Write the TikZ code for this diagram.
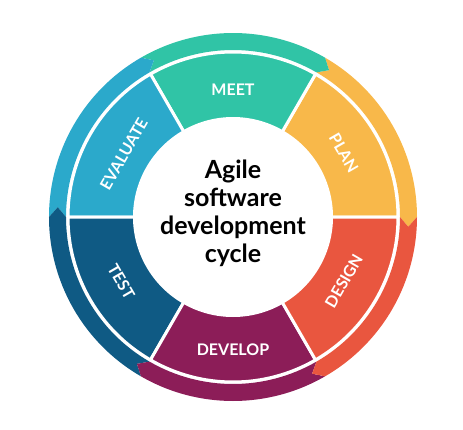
\documentclass[tikz,border=0pt]{standalone}
\usepackage{fontspec}
\setmainfont{Lato}
\usetikzlibrary{calc}
\definecolor{plancol}{HTML}{F8B84A}
\definecolor{meetcol}{HTML}{30C4A6}
\definecolor{evalcol}{HTML}{2BA9CB}
\definecolor{testcol}{HTML}{0F5A84}
\definecolor{devcol}{HTML}{8C1D58}
\definecolor{designcol}{HTML}{E9563F}
% one coloured sector of the inner ring
\newcommand{\stagesector}[3]{
  \filldraw[fill=#3,draw=white,line width=3pt]
    (#1:98.5) -- (#1:165) arc[start angle=#1, end angle=#2, radius=165]
    -- (#2:98.5) arc[start angle=#2, end angle=#1, radius=98.5] -- cycle;
}
% outer arrow, running clockwise from #2 to #1
\newcommand{\ringarrow}[3]{
  \fill[#3] (#2:184) arc[start angle=#2, end angle=#1, radius=184]
    -- (#1-3.2:175.5) -- (#1:167) arc[start angle=#1, end angle=#2, radius=167]
    -- (#2-3.2:175.5) -- cycle;
}

\begin{document}
\begin{tikzpicture}[x=1pt,y=1pt]
\tikzstyle{stage}=[text=white,inner sep=0pt,font=\fontsize{16}{16}\selectfont\bfseries]
\tikzstyle{title}=[align=center,inner sep=0pt,font=\fontsize{25}{28}\selectfont\bfseries]
\useasboundingbox (-233,-212) rectangle (230,217);

\foreach \a/\col in {0/plancol,60/meetcol,120/evalcol,180/testcol,240/devcol,300/designcol} {
  \pgfmathtruncatemacro\b{\a+60}
  \stagesector{\a}{\b}{\col}
  \ringarrow{\a}{\b}{\col}
}

\node[stage] (meet) at (90:127) {MEET};
\node[stage,rotate=-60] (plan) at (30:128) {PLAN};
\node[stage,rotate=60] (design) at (-30:128) {DESIGN};
\node[stage] (develop) at (270:133) {DEVELOP};
\node[stage,rotate=-60] (test) at (210:129) {TEST};
\node[stage,rotate=60] (evaluate) at (150:126) {EVALUATE};

\node[title] (agile) at (0,4) {Agile\\software\\development\\cycle};
\end{tikzpicture}
\end{document}
